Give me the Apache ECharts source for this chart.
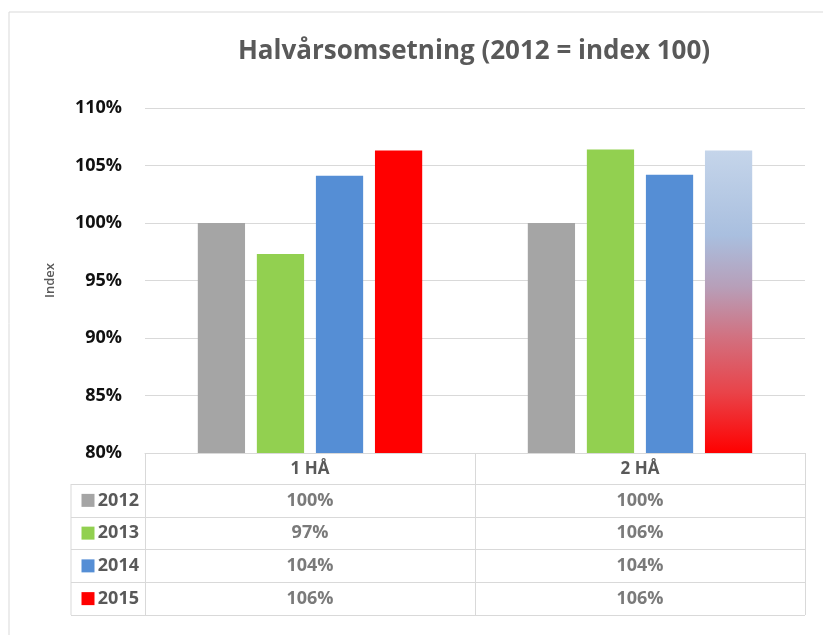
<!DOCTYPE html>
<html>
<head>
<meta charset="utf-8">
<script src="https://cdn.jsdelivr.net/npm/echarts@6/dist/echarts.min.js"></script>
<style>
  html, body { margin: 0; padding: 0; background: #fff; }
  #main { width: 823px; height: 635px; }
</style>
</head>
<body>
<div id="main"></div>
<script>
// halvårsomsetning, 2012 = index 100

var categories = ['1 HÅ', '2 HÅ'];
var years = ['2012', '2013', '2014', '2015'];
var s2012 = [100, 100];
var s2013 = [97.3, 106.4];
var s2014 = [104.1, 104.2];
var s2015 = [106.3, 106.3];
var yTicks = [80, 85, 90, 95, 100, 105, 110];

var seriesValues = [s2012, s2013, s2014, s2015];
var colors = ['#a5a5a5', '#92d050', '#558ed5', '#ff0000'];
var lineColor = '#d9d9d9';
var textGray = '#595959';
var font = 'Open Sans';

// 2 HÅ 2015 is shown with a blue to red fade
var fade = new echarts.graphic.LinearGradient(0, 0, 0, 1, [
  { offset: 0, color: '#c5d5ea' },
  { offset: 0.28, color: '#a9bfdf' },
  { offset: 0.45, color: '#b79fb9' },
  { offset: 0.62, color: '#d2707f' },
  { offset: 0.8, color: '#e94349' },
  { offset: 1, color: '#ff0000' }
]);

var chart = echarts.init(document.getElementById('main'), null, { renderer: 'canvas' });

var barSeries = years.map(function (y, i) {
  return {
    name: y,
    type: 'bar',
    xAxisIndex: 0,
    yAxisIndex: 0,
    barCategoryGap: '32%',
    barGap: '25%',
    itemStyle: { color: colors[i] },
    data: seriesValues[i].map(function (v, j) {
      if (i === 3 && j === 1) {
        return { value: v, itemStyle: { color: fade } };
      }
      return v;
    })
  };
});

// cells of the data table
var cells = [];
years.forEach(function (y, i) {
  categories.forEach(function (c, j) {
    cells.push([c, y, Math.round(seriesValues[i][j])]);
  });
});

var rich = { t: { fontFamily: font, fontWeight: 'bold', fontSize: 18, color: textGray } };
years.forEach(function (y, i) {
  rich['sq' + i] = { width: 13, height: 13, backgroundColor: colors[i] };
});

var option = {
  animation: false,
  backgroundColor: '#fff',
  title: {
    text: 'Halvårsomsetning (2012 = index 100)',
    left: 469,
    top: 34,
    textAlign: 'center',
    textStyle: { fontFamily: font, fontWeight: 'bold', fontSize: 26, color: textGray }
  },
  grid: [
    { left: 145, right: 18, top: 108, bottom: 182, outerBoundsMode: 'none' },
    { left: 145, right: 18, top: 484, bottom: 20, outerBoundsMode: 'none' }
  ],
  xAxis: [
    {
      type: 'category',
      gridIndex: 0,
      data: categories,
      axisLine: { lineStyle: { color: lineColor, width: 1 } },
      axisTick: { show: true, length: 31, inside: false, lineStyle: { color: lineColor } },
      axisLabel: { margin: 8, fontFamily: font, fontWeight: 'bold', fontSize: 17, color: textGray }
    },
    {
      type: 'category',
      gridIndex: 1,
      position: 'top',
      data: categories,
      axisLine: { show: false },
      axisTick: { show: false },
      axisLabel: { show: false },
      splitLine: { show: true, lineStyle: { color: lineColor } }
    }
  ],
  yAxis: [
    {
      type: 'value',
      gridIndex: 0,
      min: yTicks[0],
      max: yTicks[yTicks.length - 1],
      interval: 5,
      name: 'Index',
      nameLocation: 'middle',
      nameGap: 88,
      nameTextStyle: { fontFamily: font, fontSize: 13, fontWeight: 600, color: textGray },
      axisLine: { show: false },
      axisTick: { show: false },
      axisLabel: {
        margin: 23,
        fontFamily: font,
        fontWeight: 'bold',
        fontSize: 18,
        color: '#111',
        formatter: function (v) { return v + '%'; }
      },
      splitLine: { lineStyle: { color: lineColor } }
    },
    {
      type: 'category',
      gridIndex: 1,
      inverse: true,
      data: years,
      axisLine: { show: true, lineStyle: { color: lineColor } },
      axisTick: { show: true, length: 74, interval: 0, lineStyle: { color: lineColor } },
      axisLabel: {
        margin: 6,
        interval: 0,
        formatter: function (v) {
          return '{sq' + years.indexOf(v) + '|} {t|' + v + '}';
        },
        rich: rich
      },
      splitLine: { show: true, interval: 0, lineStyle: { color: lineColor } }
    }
  ],
  series: barSeries.concat([
    {
      type: 'scatter',
      xAxisIndex: 1,
      yAxisIndex: 1,
      symbolSize: 1,
      itemStyle: { color: 'rgba(0,0,0,0)' },
      label: {
        show: true,
        position: 'inside',
        fontFamily: font,
        fontWeight: 'bold',
        fontSize: 18,
        color: textGray,
        formatter: function (p) { return p.value[2] + '%'; }
      },
      data: cells
    }
  ]),
  graphic: [
    { type: 'line', shape: { x1: 9, y1: 12, x2: 823, y2: 12 }, style: { stroke: lineColor, lineWidth: 1 } },
    { type: 'line', shape: { x1: 9, y1: 12, x2: 9, y2: 635 }, style: { stroke: lineColor, lineWidth: 1 } },
    { type: 'line', shape: { x1: 71, y1: 484, x2: 71, y2: 615 }, style: { stroke: lineColor, lineWidth: 1 } }
  ]
};

chart.setOption(option);
</script>
</body>
</html>
